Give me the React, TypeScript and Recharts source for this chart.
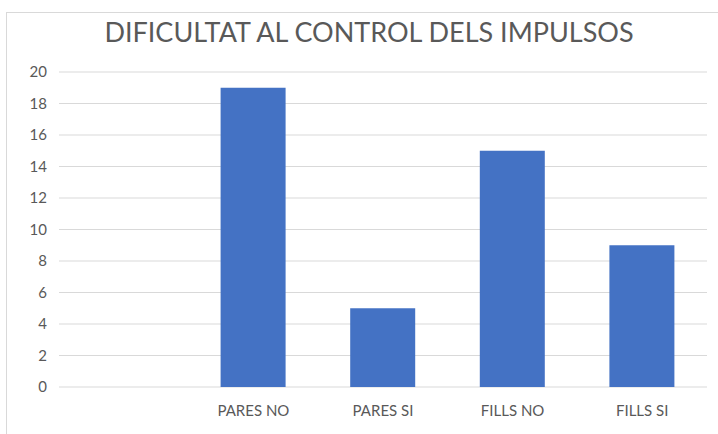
import React from 'react';
import { BarChart, Bar, XAxis, YAxis, CartesianGrid } from 'recharts';

const categories = ['', 'PARES NO', 'PARES SI', 'FILLS NO', 'FILLS SI'];
const values: (number | null)[] = [null, 19, 5, 15, 9];
const yTicks = [0, 2, 4, 6, 8, 10, 12, 14, 16, 18, 20];

const data = categories.map((name, i) => ({ name, value: values[i] }));

const font = 'Lato, "Open Sans", sans-serif';

export default function App() {
    return (
        <div style={{ position: 'absolute', left: 0, top: 0, width: 718, height: 434, background: '#fff', overflow: 'hidden', fontFamily: font }}>
            <div
                style={{
                    position: 'absolute',
                    left: 6,
                    top: 12,
                    width: 730,
                    height: 440,
                    border: '1px solid #d9d9d9',
                    boxSizing: 'border-box',
                }}
            />
            <div
                style={{
                    position: 'absolute',
                    left: 0,
                    top: 16,
                    width: 738,
                    textAlign: 'center',
                    fontSize: 27,
                    color: '#595959',
                    lineHeight: '32px',
                }}
            >
                DIFICULTAT AL CONTROL DELS IMPULSOS
            </div>
            <div style={{ position: 'absolute', left: 0, top: 0 }}>
                <BarChart
                    width={718}
                    height={434}
                    data={data}
                    margin={{ top: 72, right: 11, bottom: 17, left: 0 }}
                >
                    <CartesianGrid vertical={false} stroke="#d9d9d9" />
                    <XAxis
                        dataKey="name"
                        height={30}
                        interval={0}
                        axisLine={false}
                        tickLine={false}
                        tickSize={0}
                        tickMargin={18}
                        tick={{ fill: '#595959', fontSize: 15, fontFamily: font }}
                    />
                    <YAxis
                        width={59}
                        domain={[0, 20]}
                        ticks={yTicks}
                        axisLine={false}
                        tickLine={false}
                        tickSize={0}
                        tickMargin={12}
                        tick={{ fill: '#595959', fontSize: 15, fontFamily: font }}
                    />
                    <Bar dataKey="value" fill="#4472C4" barSize={65} isAnimationActive={false} />
                </BarChart>
            </div>
        </div>
    );
}
